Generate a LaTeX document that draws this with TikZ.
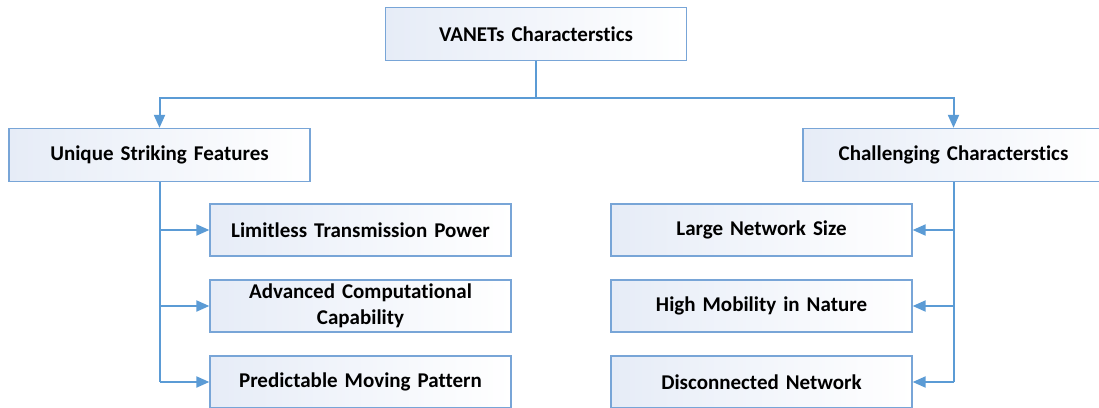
\documentclass[tikz,border=0pt]{standalone}
\usepackage{fontspec}
\setmainfont{Carlito}[Ligatures={NoCommon}]
\usetikzlibrary{arrows.meta}
\definecolor{linkblue}{RGB}{91,155,213}
\definecolor{edgeblue}{RGB}{120,165,215}
\definecolor{shadeblue}{RGB}{230,236,247}
\tikzset{
  box/.style={rectangle, draw=edgeblue, line width=1.3pt,
    left color=shadeblue, right color=white,
    minimum width=301pt, minimum height=53pt, inner sep=2pt,
    align=center, text width=295pt,
    font=\fontsize{21}{26}\selectfont\bfseries},
  link/.style={draw=linkblue, line width=2pt},
  arrowlink/.style={link, -{Triangle[length=13pt,width=11pt]}}
}
\begin{document}
\begin{tikzpicture}[x=1pt,y=-1pt]
\useasboundingbox (0,0) rectangle (1099,407);
% top level
\node[box] (top) at (536,34) {VANETs Characterstics};
% second level
\node[box] (uf) at (159.5,155) {Unique Striking Features};
\node[box] (cc) at (953.5,155) {Challenging Characterstics};
% left column
\node[box, minimum height=52pt] (l1) at (360.5,230) {Limitless Transmission Power};
\node[box, minimum height=52pt] (l2) at (360.5,306) {Advanced Computational\\Capability};
\node[box, minimum height=52pt] (l3) at (360.5,382) {Predictable Moving Pattern};
% right column
\node[box, minimum height=52pt] (r1) at (761.5,230) {Large Network Size};
\node[box, minimum height=52pt] (r2) at (761.5,306) {High Mobility in Nature};
\node[box, minimum height=52pt] (r3) at (761.5,382) {Disconnected Network};
% trunk and split
\coordinate (j) at (536,97.5);
\draw[link] (top.south) -- (j);
\draw[arrowlink] (j) -| (uf.north);
\draw[arrowlink] (j) -| (cc.north);
% left branches
\draw[link] (uf.south) -- (uf.south |- l3.west);
\draw[arrowlink] (uf.south |- l1.west) -- (l1.west);
\draw[arrowlink] (uf.south |- l2.west) -- (l2.west);
\draw[arrowlink] (uf.south |- l3.west) -- (l3.west);
% right branches
\draw[link] (cc.south) -- (cc.south |- r3.east);
\draw[arrowlink] (cc.south |- r1.east) -- (r1.east);
\draw[arrowlink] (cc.south |- r2.east) -- (r2.east);
\draw[arrowlink] (cc.south |- r3.east) -- (r3.east);
\end{tikzpicture}
\end{document}
